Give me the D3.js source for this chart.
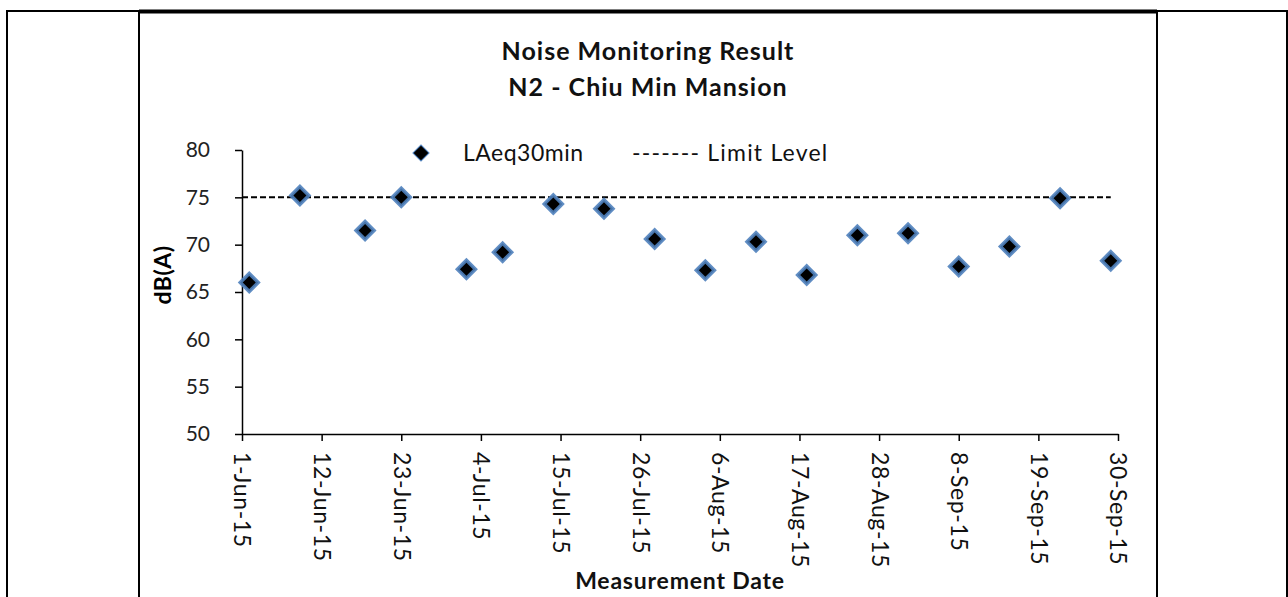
<!DOCTYPE html>
<html>
<head>
<meta charset="utf-8">
<script src="https://cdn.jsdelivr.net/npm/d3@7"></script>
<style>
  body { margin: 0; background: #fff; }
  svg { display: block; font-family: Lato, "Open Sans", sans-serif; }
</style>
</head>
<body>
<div id="chart"></div>
<script>
// measurement dates and LAeq30min results, dB(A)
var dates = ["2015-06-02","2015-06-09","2015-06-18","2015-06-23","2015-07-02","2015-07-07",
             "2015-07-14","2015-07-21","2015-07-28","2015-08-04","2015-08-11","2015-08-18",
             "2015-08-25","2015-09-01","2015-09-08","2015-09-15","2015-09-22","2015-09-29"];
var laeq = [66.0, 75.2, 71.5, 75.0, 67.4, 69.2, 74.3, 73.8, 70.6, 67.3, 70.3, 66.8,
            71.0, 71.2, 67.7, 69.8, 74.9, 68.3];
var limitDates = ["2015-06-01","2015-09-29"];
var limitValues = [75, 75];
var xTicks = ["2015-06-01","2015-06-12","2015-06-23","2015-07-04","2015-07-15","2015-07-26",
              "2015-08-06","2015-08-17","2015-08-28","2015-09-08","2015-09-19","2015-09-30"];
var yTicks = [50, 55, 60, 65, 70, 75, 80];
var titles = ["Noise Monitoring Result", "N2 - Chiu Min Mansion"];

var W = 1288, H = 597;
var parse = d3.utcParse("%Y-%m-%d");
var fmt = d3.utcFormat("%-d-%b-%y");

var svg = d3.select("#chart").append("svg")
    .attr("width", W)
    .attr("height", H);

// frame lines (table cells around the chart)
var frame = svg.append("g").attr("stroke", "#000").attr("fill", "none");
frame.append("path").attr("d", "M7,597V11H1287V597").attr("stroke-width", 2);
frame.append("line").attr("x1", 139).attr("x2", 139).attr("y1", 11).attr("y2", 597).attr("stroke-width", 2);
frame.append("line").attr("x1", 1157).attr("x2", 1157).attr("y1", 11).attr("y2", 597).attr("stroke-width", 2);
frame.append("line").attr("x1", 139).attr("x2", 1157).attr("y1", 11.5).attr("y2", 11.5).attr("stroke-width", 4);

var x = d3.scaleUtc()
    .domain([parse("2015-06-01"), parse("2015-09-30")])
    .range([242, 1118]);
var y = d3.scaleLinear()
    .domain([50, 80])
    .range([434, 150]);

// title
svg.append("g").selectAll("text")
    .data(titles)
    .join("text")
    .attr("x", 648)
    .attr("y", function (d, i) { return 60 + i * 36; })
    .attr("text-anchor", "middle")
    .attr("font-size", 25)
    .attr("letter-spacing", 1)
    .attr("font-weight", "bold")
    .attr("fill", "#111")
    .text(function (d) { return d; });

// axes
var yAxis = svg.append("g")
    .attr("transform", "translate(242,0)")
    .call(d3.axisLeft(y).tickValues(yTicks).tickSize(7).tickSizeOuter(0).tickPadding(25));
var xAxis = svg.append("g")
    .attr("transform", "translate(0,434)")
    .call(d3.axisBottom(x).tickValues(xTicks.map(parse)).tickFormat(fmt).tickSize(7).tickSizeOuter(0));

svg.selectAll(".domain, .tick line").attr("stroke", "#000").attr("stroke-width", 1.5);
yAxis.selectAll("text").attr("font-size", 21).attr("fill", "#222").attr("font-family", "Lato, sans-serif");
xAxis.selectAll("text")
    .attr("font-size", 23)
    .attr("letter-spacing", 0.6)
    .attr("fill", "#111")
    .attr("font-family", "Lato, sans-serif")
    .attr("transform", "rotate(90)")
    .attr("x", 18)
    .attr("y", 0)
    .attr("dy", "0.35em")
    .attr("text-anchor", "start");

// axis titles
svg.append("text")
    .attr("transform", "translate(171,275) rotate(-90)")
    .attr("text-anchor", "middle")
    .attr("font-size", 23)
    .attr("letter-spacing", 0.5)
    .attr("font-weight", "bold")
    .text("dB(A)");
svg.append("text")
    .attr("x", 680)
    .attr("y", 589)
    .attr("text-anchor", "middle")
    .attr("font-size", 23)
    .attr("letter-spacing", 0.8)
    .attr("font-weight", "bold")
    .attr("fill", "#111")
    .text("Measurement Date");

// limit level
var limit = limitDates.map(function (d, i) { return { d: parse(d), v: limitValues[i] }; });
svg.append("path")
    .attr("d", d3.line().x(function (d) { return x(d.d); }).y(function (d) { return y(d.v); })(limit))
    .attr("stroke", "#000")
    .attr("stroke-width", 2)
    .attr("stroke-dasharray", "6,3")
    .attr("fill", "none");

// measurement points
var diamond = d3.symbol(d3.symbolSquare, 162);
svg.append("g").selectAll("path")
    .data(dates.map(function (d, i) { return { d: parse(d), v: laeq[i] }; }))
    .join("path")
    .attr("d", diamond)
    .attr("transform", function (d) { return "translate(" + x(d.d) + "," + y(d.v) + ") rotate(45)"; })
    .attr("fill", "#000")
    .attr("stroke", "#4f81bd")
    .attr("stroke-opacity", 0.9)
    .attr("stroke-width", 3.5);

// legend
var lg = svg.append("g");
lg.append("path")
    .attr("d", d3.symbol(d3.symbolSquare, 130))
    .attr("transform", "translate(421,153) rotate(45)")
    .attr("fill", "#000")
    .attr("stroke", "#4f81bd")
    .attr("stroke-width", 1);
lg.append("text")
    .attr("x", 463).attr("y", 161)
    .attr("font-size", 23).attr("letter-spacing", 0.5).attr("fill", "#111")
    .text("LAeq30min");
lg.append("text")
    .attr("x", 632).attr("y", 161)
    .attr("font-size", 23).attr("letter-spacing", 1.2).attr("fill", "#111")
    .text("------- Limit Level");
</script>
</body>
</html>
